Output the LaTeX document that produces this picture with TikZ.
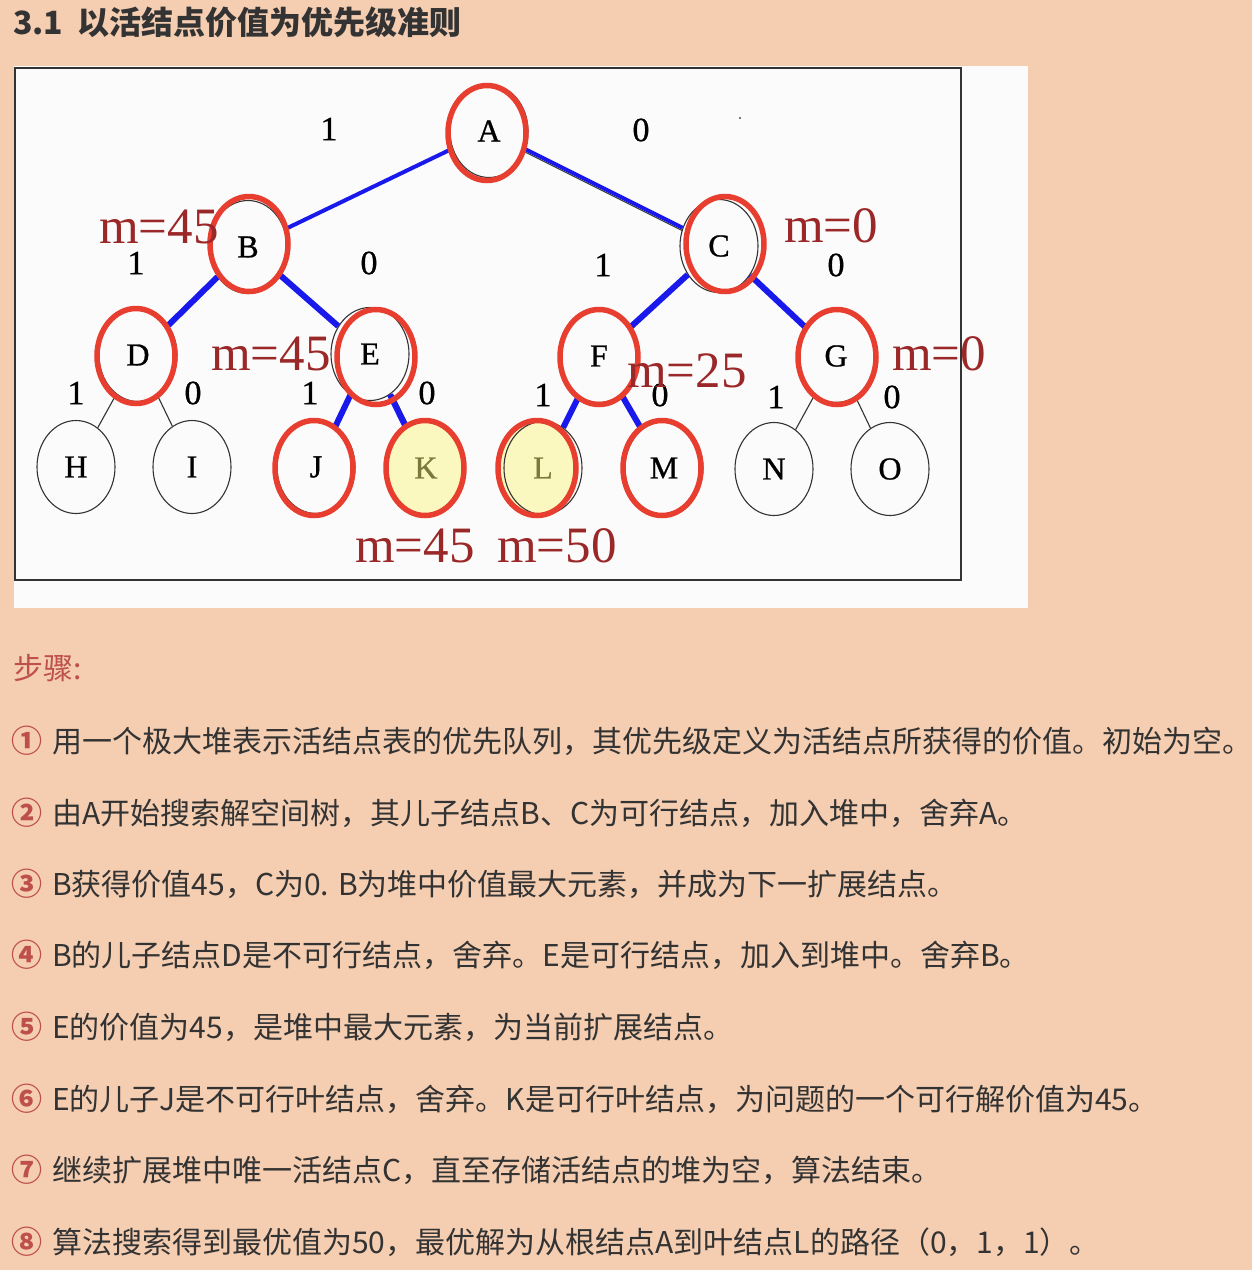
\documentclass[tikz,border=0pt]{standalone}
\usepackage{fontspec}
\setmainfont{Liberation Serif}
\newfontfamily\cjk{Noto Sans CJK SC}
\newfontfamily\nodefont{Liberation Serif}[FakeBold=0.8]
\usetikzlibrary{shapes.geometric}
\definecolor{bg}{RGB}{245,206,178}
\definecolor{panel}{RGB}{251,251,251}
\definecolor{ringred}{RGB}{232,62,48}
\definecolor{edgeblue}{RGB}{25,25,235}
\definecolor{mred}{RGB}{155,40,40}
\definecolor{txt}{RGB}{51,51,51}
\definecolor{num}{RGB}{190,80,75}
\definecolor{leaf}{RGB}{250,248,190}
\definecolor{olive}{RGB}{125,120,60}
\begin{document}
\begin{tikzpicture}[x=1pt,y=-1pt,
 tn/.style={ellipse,draw=black!80,line width=1.1pt,minimum width=78pt,minimum height=93pt,inner sep=0pt,font=\nodefont\fontsize{32}{32}\selectfont},
 ring/.style={draw=ringred,line width=5.5pt},
 be/.style={draw=edgeblue,line width=6pt},
 bt/.style={draw=edgeblue,line width=4pt},
 ke/.style={draw=black!80,line width=1.1pt},
 el/.style={font=\nodefont\fontsize{34}{34}\selectfont,inner sep=0pt},
 ml/.style={font=\fontsize{51}{51}\selectfont,text=mred,inner sep=0pt,anchor=base west},
 stepline/.style={font=\cjk\fontsize{30}{30}\selectfont,text=txt,anchor=base west,inner sep=0pt},
 circnum/.style={font=\cjk\bfseries\fontsize{31}{31}\selectfont,text=num,anchor=base west,inner sep=0pt},
]
\useasboundingbox (0,0) rectangle (1252,1270);
\fill[bg] (0,0) rectangle (1252,1270);
% title
\node[anchor=base west,inner sep=0pt,font=\cjk\bfseries\fontsize{32}{32}\selectfont,text=txt] (title) at (13,34) {3.1\hspace{14pt}以活结点价值为优先级准则};
% panel
\fill[panel] (14,66) rectangle (1028,608);
\draw[draw=black!80,line width=2pt] (15,68) rectangle (961,580);
% yellow fills
\fill[leaf] (425,468) ellipse [x radius=40pt, y radius=48pt];
\fill[leaf] (537,468) ellipse [x radius=40pt, y radius=48pt];
% nodes
\node[tn] (A) at (489,131) {A};
\node[tn] (B) at (248,247) {B};
\node[tn] (C) at (719,246) {C};
\node[tn] (D) at (138,355) {D};
\node[tn] (E) at (370,354) {E};
\node[tn] (F) at (599,356) {F};
\node[tn] (G) at (836,356) {G};
\node[tn] (H) at (76,467) {H};
\node[tn] (I) at (192,467) {I};
\node[tn] (J) at (316,467) {J};
\node[tn,text=olive] (K) at (426,468) {K};
\node[tn,text=olive] (L) at (543,468) {L};
\node[tn] (M) at (664,468) {M};
\node[tn] (N) at (774,469) {N};
\node[tn] (O) at (890,469) {O};
% black tree edges
\draw[ke,transform canvas={yshift=-3pt}] (A) -- (C);
\draw[ke] (A) -- (B);
\draw[ke] (B) -- (D);
\draw[ke] (B) -- (E);
\draw[ke] (C) -- (F);
\draw[ke] (C) -- (G);
\draw[ke] (D) -- (H);
\draw[ke] (D) -- (I);
\draw[ke] (E) -- (J);
\draw[ke,transform canvas={xshift=3pt}] (E) -- (K);
\draw[ke] (F) -- (L);
\draw[ke] (F) -- (M);
\draw[ke] (G) -- (N);
\draw[ke] (G) -- (O);
% blue path edges
\draw[bt] (A) -- (B);
\draw[bt] (A) -- (C);
\draw[be] (B) -- (D);
\draw[be] (B) -- (E);
\draw[be] (C) -- (F);
\draw[be] (C) -- (G);
\draw[be] (E) -- (J);
\draw[be] (E) -- (K);
\draw[be] (F) -- (L);
\draw[be] (F) -- (M);
% red rings
\draw[ring] (487,133) ellipse [x radius=39pt, y radius=47.5pt];
\draw[ring] (249,244) ellipse [x radius=39pt, y radius=47.5pt];
\draw[ring] (725,244) ellipse [x radius=39pt, y radius=47.5pt];
\draw[ring] (136,356) ellipse [x radius=39pt, y radius=47.5pt];
\draw[ring] (376,357) ellipse [x radius=39pt, y radius=47.5pt];
\draw[ring] (599,357) ellipse [x radius=39pt, y radius=47.5pt];
\draw[ring] (837,357) ellipse [x radius=39pt, y radius=47.5pt];
\draw[ring] (314,468) ellipse [x radius=39pt, y radius=47.5pt];
\draw[ring] (425,468) ellipse [x radius=39pt, y radius=47.5pt];
\draw[ring] (537,468) ellipse [x radius=39pt, y radius=47.5pt];
\draw[ring] (662,468) ellipse [x radius=39pt, y radius=47.5pt];
% edge labels
\node[el] (l1) at (329,129) {1};
\node[el] (l2) at (641,130) {0};
\node[el] (l3) at (136,263) {1};
\node[el] (l4) at (369,263) {0};
\node[el] (l5) at (603,265) {1};
\node[el] (l6) at (836,265) {0};
\node[el] (l7) at (76,393) {1};
\node[el] (l8) at (193,393) {0};
\node[el] (l9) at (310,393) {1};
\node[el] (l10) at (427,393) {0};
\node[el] (l11) at (543,395) {1};
\node[el] (l12) at (660,395) {0};
\node[el] (l13) at (776,397) {1};
\node[el] (l14) at (892,397) {0};
\fill[black!70] (740,118) circle (1.2pt);
% m labels
\node[ml] (m1) at (99,243) {m=45};
\node[ml] (m2) at (784,242) {m=0};
\node[ml] (m3) at (211,370) {m=45};
\node[ml] (m4) at (627,387) {m=25};
\node[ml] (m5) at (892,370) {m=0};
\node[ml] (m6) at (355,562) {m=45};
\node[ml] (m7) at (497,562) {m=50};
% steps
\node[anchor=base west,inner sep=0pt,font=\cjk\fontsize{30}{30}\selectfont,text=num] (hd) at (13,679) {步骤:};
\node[circnum] (c1) at (11,752) {①};
\node[stepline] (s1) at (52,752) {用一个极大堆表示活结点表的优先队列，其优先级定义为活结点所获得的价值。初始为空。};
\node[circnum] (c2) at (11,824) {②};
\node[stepline] (s2) at (52,824) {由A开始搜索解空间树，其儿子结点B、C为可行结点，加入堆中，舍弃A。};
\node[circnum] (c3) at (11,895) {③};
\node[stepline] (s3) at (52,895) {B获得价值45，C为0. B为堆中价值最大元素，并成为下一扩展结点。};
\node[circnum] (c4) at (11,966) {④};
\node[stepline] (s4) at (52,966) {B的儿子结点D是不可行结点，舍弃。E是可行结点，加入到堆中。舍弃B。};
\node[circnum] (c5) at (11,1038) {⑤};
\node[stepline] (s5) at (52,1038) {E的价值为45，是堆中最大元素，为当前扩展结点。};
\node[circnum] (c6) at (11,1110) {⑥};
\node[stepline] (s6) at (52,1110) {E的儿子J是不可行叶结点，舍弃。K是可行叶结点，为问题的一个可行解价值为45。};
\node[circnum] (c7) at (11,1181) {⑦};
\node[stepline] (s7) at (52,1181) {继续扩展堆中唯一活结点C，直至存储活结点的堆为空，算法结束。};
\node[circnum] (c8) at (11,1253) {⑧};
\node[stepline] (s8) at (52,1253) {算法搜索得到最优值为50，最优解为从根结点A到叶结点L的路径（0，1，1）。};
\end{tikzpicture}
\end{document}
